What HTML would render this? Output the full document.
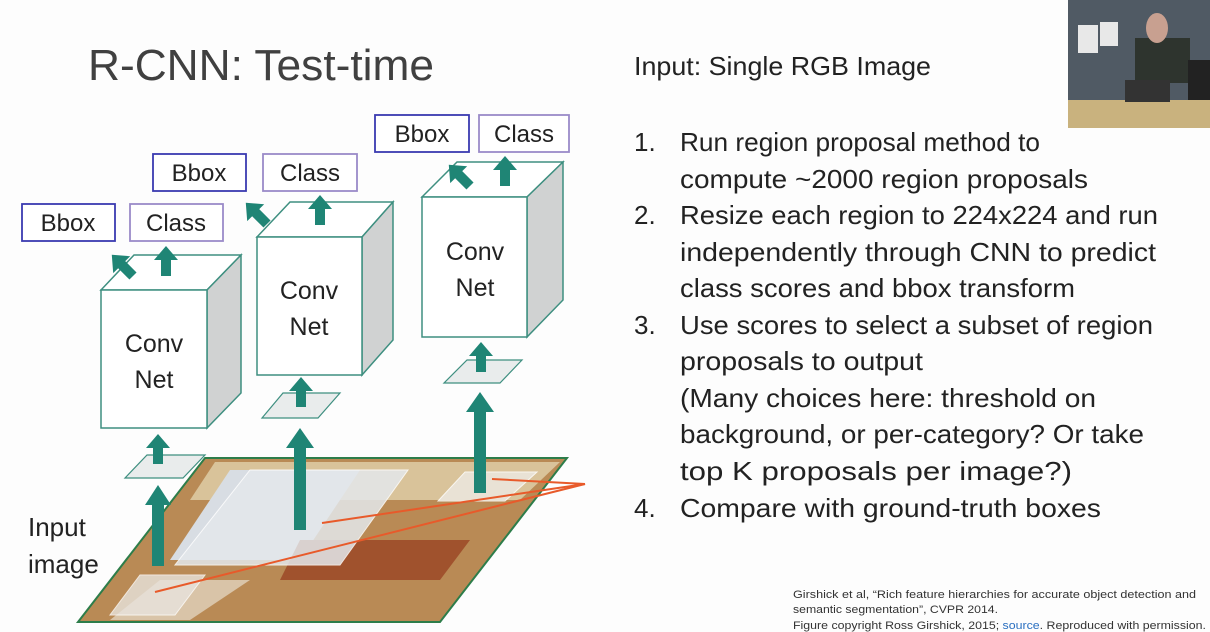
<!DOCTYPE html>
<html><head><meta charset="utf-8"><style>
html,body{margin:0;padding:0;background:#fff}
svg{display:block}
text{font-family:"Liberation Sans",sans-serif}
</style></head><body>
<svg width="1210" height="632" viewBox="0 0 1210 632" xmlns="http://www.w3.org/2000/svg">
<rect width="1210" height="632" fill="#fdfdfd"/>
<text x="88" y="80" font-size="44" fill="#404040" textLength="346" lengthAdjust="spacingAndGlyphs">R-CNN: Test-time</text>

<!-- webcam -->
<rect x="1068" y="0" width="142" height="128" fill="#505a64"/>
<rect x="1068" y="100" width="142" height="28" fill="#c9b27e"/>
<rect x="1078" y="25" width="20" height="28" fill="#e8e8e8"/>
<rect x="1100" y="22" width="18" height="24" fill="#e8e8e8"/>
<rect x="1135" y="38" width="55" height="45" fill="#2e342e"/>
<ellipse cx="1157" cy="28" rx="11" ry="15" fill="#c8a090"/>
<rect x="1125" y="80" width="45" height="22" fill="#333"/>
<rect x="1188" y="60" width="22" height="40" fill="#222"/>

<!-- input image -->
<polygon points="205,458 567,458 440,622 78,622" fill="#b98a55" stroke="#2d7d4a" stroke-width="2"/>
<polygon points="215,462 560,462 520,500 190,500" fill="#d9c39a"/>
<polygon points="230,470 360,470 300,560 170,560" fill="#d8dde3"/>
<polygon points="280,580 440,580 470,540 300,540" fill="#a0522d"/>
<polygon points="160,580 250,580 190,620 110,620" fill="#d9c4a8"/>
<polygon points="250,470 408,470 340,565 175,565" fill="#e4e8ec" opacity="0.85" stroke="#fff"/>
<polygon points="465,472 537,472 505,501 438,501" fill="#ece8e0" opacity="0.85" stroke="#fff"/>
<polygon points="140,575 205,575 175,615 110,615" fill="#e8e4de" opacity="0.8" stroke="#fff"/>
<g stroke="#e85a2a" stroke-width="2" fill="none">
<line x1="585" y1="484" x2="492" y2="479"/>
<line x1="585" y1="484" x2="322" y2="523"/>
<line x1="585" y1="484" x2="155" y2="592"/>
</g>

<text x="28" y="536" font-size="26" fill="#222">Input</text>
<text x="28" y="573" font-size="26" fill="#222">image</text>

<!-- small planes -->
<g fill="#e9ecec" stroke="#3e8f80" stroke-width="1.2">
<polygon points="147,455 205,455 183,478 125,478"/>
<polygon points="283,393 340,393 318,418 262,418"/>
<polygon points="467,360 522,360 500,383 444,383"/>
</g>

<!-- boxes -->
<g stroke="#3e8f80" stroke-width="1.5">
<polygon points="101,290 134,255 241,255 207,290" fill="#fff"/>
<polygon points="207,290 241,255 241,393 207,428" fill="#d0d2d2"/>
<rect x="101" y="290" width="106" height="138" fill="#fff"/>
<polygon points="257,237 290,202 393,202 362,237" fill="#fff"/>
<polygon points="362,237 393,202 393,340 362,375" fill="#d0d2d2"/>
<rect x="257" y="237" width="105" height="138" fill="#fff"/>
<polygon points="422,197 457,162 563,162 527,197" fill="#fff"/>
<polygon points="527,197 563,162 563,300 527,337" fill="#d0d2d2"/>
<rect x="422" y="197" width="105" height="140" fill="#fff"/>
</g>
<g font-size="25" fill="#222" text-anchor="middle">
<text x="154" y="352">Conv</text><text x="154" y="388">Net</text>
<text x="309" y="299">Conv</text><text x="309" y="335">Net</text>
<text x="475" y="260">Conv</text><text x="475" y="296">Net</text>
</g>

<!-- label boxes -->
<g fill="#fff" stroke-width="1.8">
<rect x="22" y="204" width="93" height="37" stroke="#3a3ab0"/>
<rect x="130" y="204" width="93" height="37" stroke="#9a8ac8"/>
<rect x="153" y="154" width="93" height="37" stroke="#3a3ab0"/>
<rect x="263" y="154" width="94" height="37" stroke="#9a8ac8"/>
<rect x="375" y="115" width="94" height="37" stroke="#3a3ab0"/>
<rect x="479" y="115" width="90" height="37" stroke="#9a8ac8"/>
</g>
<g font-size="24" fill="#222" text-anchor="middle">
<text x="68" y="231">Bbox</text><text x="176" y="231">Class</text>
<text x="199" y="181">Bbox</text><text x="310" y="181">Class</text>
<text x="422" y="142">Bbox</text><text x="524" y="142">Class</text>
</g>

<!-- teal arrows -->
<defs>
<g id="up"><polygon points="-5,0 -5,-16 -12,-16 0,-30 12,-16 5,-16 5,0"/></g>
</defs>
<g fill="#1f8575">
<use href="#up" x="166" y="276"/>
<use href="#up" transform="translate(133,276) rotate(-45)"/>
<use href="#up" x="320" y="225"/>
<use href="#up" transform="translate(267,224) rotate(-45)"/>
<use href="#up" x="505" y="186"/>
<use href="#up" transform="translate(470,186) rotate(-45)"/>
<use href="#up" x="158" y="464"/>
<use href="#up" x="301" y="407"/>
<use href="#up" x="481" y="372"/>
<polygon points="152,566 152,505 145,505 158,485 171,505 164,505 164,566"/>
<polygon points="294,530 294,448 286,448 300,428 314,448 306,448 306,530"/>
<polygon points="474,493 474,412 466,412 480,392 494,412 486,412 486,493"/>
</g>

<!-- right text -->
<g font-size="26" fill="#222">
<text x="634" y="75" textLength="297" lengthAdjust="spacingAndGlyphs">Input: Single RGB Image</text>
<text x="634" y="151">1.</text>
<text x="680" y="151" textLength="360" lengthAdjust="spacingAndGlyphs">Run region proposal method to</text>
<text x="680" y="188" textLength="408" lengthAdjust="spacingAndGlyphs">compute ~2000 region proposals</text>
<text x="634" y="224">2.</text>
<text x="680" y="224" textLength="478" lengthAdjust="spacingAndGlyphs">Resize each region to 224x224 and run</text>
<text x="680" y="261" textLength="476" lengthAdjust="spacingAndGlyphs">independently through CNN to predict</text>
<text x="680" y="297" textLength="395" lengthAdjust="spacingAndGlyphs">class scores and bbox transform</text>
<text x="634" y="334">3.</text>
<text x="680" y="334" textLength="473" lengthAdjust="spacingAndGlyphs">Use scores to select a subset of region</text>
<text x="680" y="370" textLength="243" lengthAdjust="spacingAndGlyphs">proposals to output</text>
<text x="680" y="407" textLength="416" lengthAdjust="spacingAndGlyphs">(Many choices here: threshold on</text>
<text x="680" y="443" textLength="464" lengthAdjust="spacingAndGlyphs">background, or per-category? Or take</text>
<text x="680" y="480" textLength="392" lengthAdjust="spacingAndGlyphs">top K proposals per image?)</text>
<text x="634" y="517">4.</text>
<text x="680" y="517" textLength="421" lengthAdjust="spacingAndGlyphs">Compare with ground-truth boxes</text>
</g>
<g font-size="11" fill="#333">
<text x="793" y="598" textLength="403" lengthAdjust="spacingAndGlyphs">Girshick et al, “Rich feature hierarchies for accurate object detection and</text>
<text x="793" y="613" textLength="205" lengthAdjust="spacingAndGlyphs">semantic segmentation”, CVPR 2014.</text>
<text x="793" y="629" textLength="413" lengthAdjust="spacingAndGlyphs">Figure copyright Ross Girshick, 2015; <tspan fill="#2a6fc0">source</tspan>. Reproduced with permission.</text>
</g>
</svg>
</body></html>
